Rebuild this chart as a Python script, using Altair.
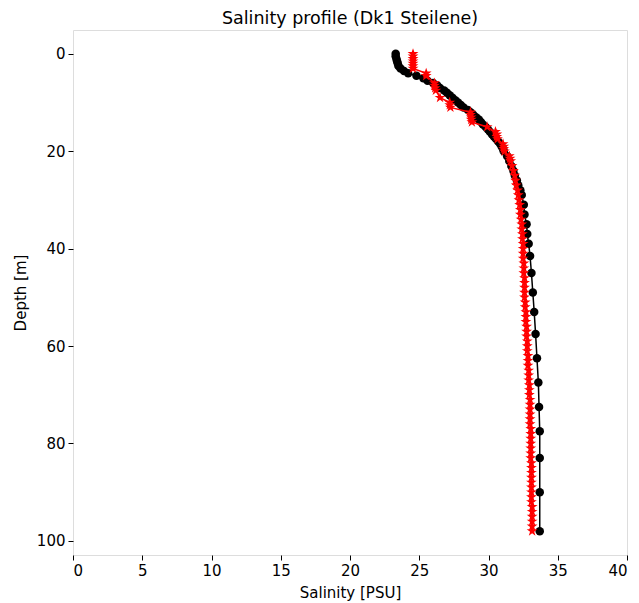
import altair as alt
import pandas as pd

# Black profile (circles)
black_depth = [0.0, 0.5, 1.0, 1.5, 2.0, 2.5, 3.0, 3.5, 4.0, 4.5, 5.0, 5.5, 6.0, 6.5,
               7.0, 7.5, 8.0, 8.5, 9.0, 9.5, 10.0, 10.5, 11.0, 11.5, 12.0, 12.5, 13.0,
               13.5, 14.0, 14.5, 15.0, 15.5, 16.0, 16.5, 17.0, 17.5, 18.0, 18.5, 19.0,
               19.5, 20.0, 21.0, 22.0, 23.0, 24.0, 25.0, 26.0, 27.0, 28.0, 29.0, 31.0,
               33.0, 35.0, 37.0, 39.0, 41.5, 45.0, 49.0, 53.0, 57.5, 62.5, 67.5, 72.5,
               77.5, 83.0, 90.0, 98.0]
black_sal = [23.3, 23.3, 23.35, 23.4, 23.45, 23.5, 23.65, 23.9, 24.2, 24.8, 25.3, 25.6,
             26.0, 26.3, 26.5, 26.8, 27.0, 27.2, 27.4, 27.6, 27.8, 28.0, 28.2, 28.5,
             28.7, 28.9, 29.1, 29.3, 29.45, 29.6, 29.8, 29.95, 30.1, 30.25, 30.4, 30.55,
             30.7, 30.85, 30.95, 31.05, 31.1, 31.35, 31.5, 31.65, 31.8, 31.9, 32.05,
             32.15, 32.3, 32.4, 32.55, 32.6, 32.75, 32.8, 32.9, 33.0, 33.1, 33.2, 33.3,
             33.4, 33.5, 33.6, 33.65, 33.7, 33.7, 33.7, 33.7]

# Red profile (stars)
red_depth = [0.0, 0.5, 1.0, 1.5, 2.0, 2.5, 3.0, 4.0, 4.5, 6.0, 6.5, 7.0, 7.5, 9.0,
             10.0, 10.5, 11.0, 12.0, 12.5, 13.0, 13.5, 14.0, 15.0, 16.0, 16.5, 17.0,
             17.5, 18.5, 19.0, 19.5, 20.0, 21.0, 21.5, 22.0, 23.0, 24.0, 25.0, 26.0,
             27.0, 28.0, 29.0, 30.0, 31.0, 32.0, 33.0, 34.0, 35.0, 36.0, 37.0, 38.0,
             39.0, 40.0, 41.0, 42.0, 43.0, 44.0, 45.0, 46.0, 47.0, 48.0, 49.0, 50.0,
             51.0, 52.0, 53.0, 54.0, 55.0, 56.0, 57.0, 58.0, 59.0, 60.0, 61.0, 62.0,
             63.0, 64.0, 65.0, 66.0, 67.0, 68.0, 69.0, 70.0, 71.0, 72.0, 73.0, 74.0,
             75.0, 76.0, 77.0, 78.0, 79.0, 80.0, 81.0, 82.0, 83.0, 84.0, 85.0, 86.0,
             87.0, 88.0, 89.0, 90.0, 91.0, 92.0, 93.0, 94.0, 95.0, 96.0, 97.0, 98.0]
red_sal = [24.55, 24.55, 24.55, 24.55, 24.55, 24.55, 24.55, 25.5, 25.5, 26.1, 26.1,
           26.15, 26.2, 26.5, 27.2, 27.2, 27.25, 28.7, 28.7, 28.75, 28.75, 28.8, 29.9,
           30.5, 30.6, 30.6, 30.65, 31.05, 31.1, 31.1, 31.15, 31.5, 31.55, 31.6, 31.7,
           31.8, 31.9, 31.95, 32.0, 32.1, 32.15, 32.2, 32.25, 32.3, 32.3, 32.35, 32.4,
           32.4, 32.45, 32.45, 32.5, 32.5, 32.5, 32.5, 32.55, 32.55, 32.55, 32.6, 32.6,
           32.6, 32.6, 32.6, 32.65, 32.65, 32.7, 32.7, 32.7, 32.75, 32.75, 32.75, 32.8,
           32.8, 32.8, 32.85, 32.85, 32.85, 32.9, 32.9, 32.9, 32.95, 32.95, 32.95, 33.0,
           33.0, 33.0, 33.0, 33.0, 33.0, 33.05, 33.05, 33.05, 33.05, 33.05, 33.05,
           33.05, 33.1, 33.1, 33.1, 33.1, 33.1, 33.1, 33.1, 33.1, 33.1, 33.15, 33.15,
           33.15, 33.15, 33.15, 33.15]

x_ticks = [0, 5, 10, 15, 20, 25, 30, 35, 40]
y_ticks = [0, 20, 40, 60, 80, 100]

black = pd.DataFrame({"depth": black_depth, "sal": black_sal})
red = pd.DataFrame({"depth": red_depth, "sal": red_sal})

STAR = ("M0,-1 L0.225,-0.309 L0.951,-0.309 L0.363,0.118 L0.588,0.809 L0,0.382 "
        "L-0.588,0.809 L-0.363,0.118 L-0.951,-0.309 L-0.225,-0.309 Z")

W, H = 554, 525
FONT = "DejaVu Sans"

common_axis = dict(grid=False, tickSize=5, labelPadding=3, labelFont=FONT,
                   titleFont=FONT, labelFontSize=15, titleFontSize=15,
                   labelColor="black", titleColor="black", tickColor="black",
                   domain=False, titleFontWeight="normal")

xenc = alt.X("sal:Q",
             scale=alt.Scale(domain=[0, 40], nice=False, zero=False),
             axis=alt.Axis(values=x_ticks, title="Salinity [PSU]", titleX=W / 2,
                           titleY=37, titleBaseline="middle", **common_axis))
yenc = alt.Y("depth:Q",
             scale=alt.Scale(domain=[-4.9, 102.9], nice=False, zero=False, reverse=True),
             axis=alt.Axis(values=y_ticks, title="Depth [m]", titleX=-53, titleY=H / 2,
                           titleAngle=-90, titleAlign="center", titleBaseline="middle",
                           **common_axis))

bl_line = alt.Chart(black).mark_line(color="black", strokeWidth=1.5).encode(
    x=xenc, y=yenc, order=alt.Order("depth:Q"))
bl_pts = alt.Chart(black).mark_point(shape="circle", filled=True, color="black",
                                     size=72, opacity=1).encode(x=xenc, y=yenc)
rd_line = alt.Chart(red).mark_line(color="red", strokeWidth=1.5).encode(
    x=xenc, y=yenc, order=alt.Order("depth:Q"))
rd_pts = alt.Chart(red).mark_point(shape=STAR, filled=True, color="red",
                                   size=130, opacity=1).encode(x=xenc, y=yenc)

chart = alt.layer(bl_line, bl_pts, rd_line, rd_pts).properties(
    width=W, height=H,
    title=alt.TitleParams("Salinity profile (Dk1 Steilene)", fontSize=17.5,
                          fontWeight="normal", font=FONT, color="black",
                          offset=3, anchor="middle"),
    autosize=alt.AutoSizeParams(type="none"),
    padding={"left": 65, "top": 22, "right": 4, "bottom": 48},
).configure_view(stroke="black", strokeWidth=1).configure(background="white")

chart.save("out.html", embed_options={"renderer": "svg", "actions": False})
